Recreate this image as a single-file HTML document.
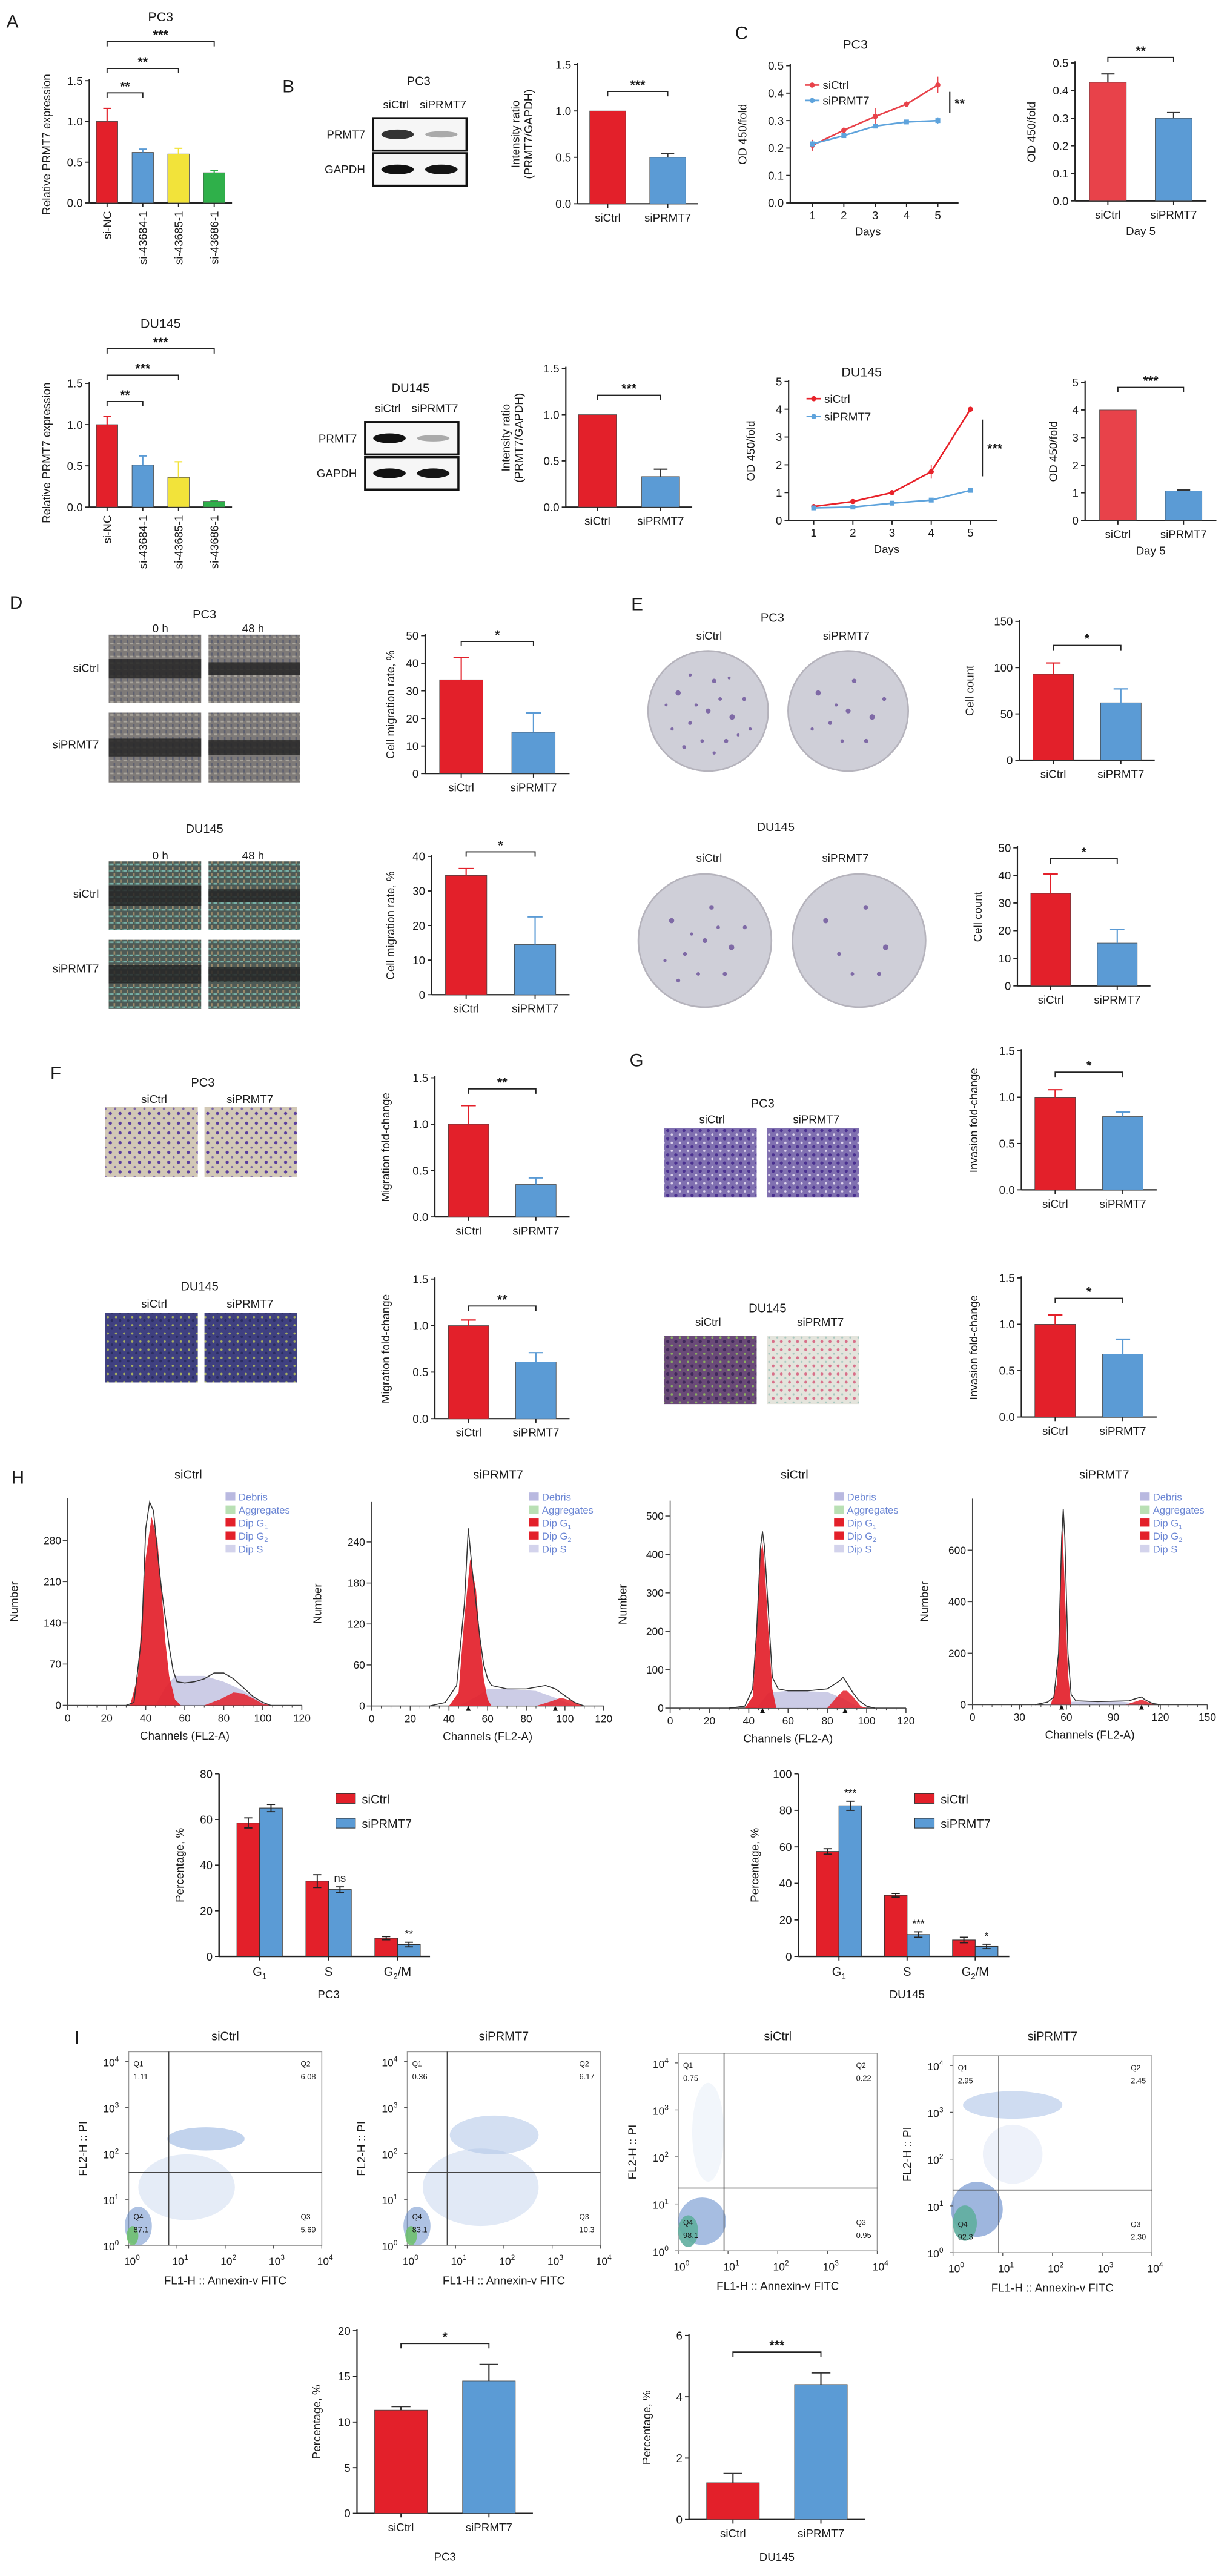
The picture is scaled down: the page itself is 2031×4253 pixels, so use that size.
<!DOCTYPE html>
<html><head><meta charset="utf-8"><title>PRMT7 figure</title>
<style>html,body{margin:0;padding:0;background:#fff}svg{display:block}text{font-family:"Liberation Sans",sans-serif;fill:#1a1a1a}</style>
</head><body>
<svg id="fig" xmlns="http://www.w3.org/2000/svg" viewBox="0 0 758 1587" width="2031" height="4253" preserveAspectRatio="none">
<defs>
<pattern id="scratchG" width="4" height="4" patternUnits="userSpaceOnUse"><rect width="4" height="4" fill="#7e7a78"/><rect x="0" y="0" width="2" height="1" fill="#a8a49c"/><rect x="2" y="2" width="1" height="2" fill="#5d6070"/></pattern>
<pattern id="scratchC" width="4" height="4" patternUnits="userSpaceOnUse"><rect width="4" height="4" fill="#4e5a56"/><rect x="0" y="0" width="2" height="1" fill="#7ab0a8"/><rect x="2" y="2" width="1" height="2" fill="#9a8a6a"/><rect x="3" y="0" width="1" height="1" fill="#5a8a7a"/></pattern>
<pattern id="twA" width="6" height="6" patternUnits="userSpaceOnUse"><rect width="6" height="6" fill="#d2c8b6"/><circle cx="2" cy="2" r="1" fill="#5a3e9e"/><circle cx="5" cy="5" r="0.7" fill="#7a64a8"/></pattern>
<pattern id="twB" width="5" height="5" patternUnits="userSpaceOnUse"><rect width="5" height="5" fill="#3f4080"/><circle cx="1.5" cy="1.5" r="0.7" fill="#a8b060"/><circle cx="4" cy="3.5" r="0.8" fill="#2a2c60"/></pattern>
<pattern id="twC" width="5" height="5" patternUnits="userSpaceOnUse"><rect width="5" height="5" fill="#8070b0"/><circle cx="1.5" cy="1.5" r="1" fill="#4a3090"/><circle cx="4" cy="4" r="0.7" fill="#dcd4ec"/></pattern>
<pattern id="twD" width="5" height="5" patternUnits="userSpaceOnUse"><rect width="5" height="5" fill="#6a4a78"/><circle cx="1.5" cy="1.5" r="1" fill="#40285a"/><circle cx="4" cy="4" r="0.7" fill="#8ab060"/></pattern>
<pattern id="twE" width="5" height="5" patternUnits="userSpaceOnUse"><rect width="5" height="5" fill="#e4e4dc"/><circle cx="1.5" cy="1.5" r="0.9" fill="#d8708a"/><circle cx="4" cy="4" r="0.6" fill="#a8c8c0"/></pattern>
</defs>
</svg>
<script>
// ---------- data ----------
const aCats=['si-NC','si-43684-1','si-43685-1','si-43686-1'];
const aPcVals=[1.0,0.62,0.60,0.37];
const aPcErrs=[0.16,0.04,0.07,0.03];
const aDuVals=[1.0,0.51,0.36,0.07];
const aDuErrs=[0.10,0.11,0.19,0.01];
const t15=[0,0.5,1.0,1.5];
const t15Labels=['0.0','0.5','1.0','1.5'];
const twoCats=['siCtrl','siPRMT7'];
const bPcVals=[1.0,0.5];
const bPcErrs=[0,0.04];
const bDuVals=[1.0,0.33];
const bDuErrs=[0,0.08];
const days=[1,2,3,4,5];
const cPcCtrl=[0.21,0.265,0.315,0.36,0.43];
const cPcCtrlErr=[0.02,0.01,0.03,0.01,0.03];
const cPcSi=[0.215,0.245,0.28,0.295,0.30];
const cPcSiErr=[0.01,0.008,0.008,0.006,0.012];
const c05Ticks=[0,0.1,0.2,0.3,0.4,0.5];
const c05Labels=['0.0','0.1','0.2','0.3','0.4','0.5'];
const cDuCtrl=[0.5,0.68,1.0,1.75,4.0];
const cDuCtrlErr=[0,0,0,0.25,0];
const cDuSi=[0.45,0.48,0.62,0.73,1.08];
const cDuSiErr=[0,0,0,0,0];
const c5Ticks=[0,1,2,3,4,5];
const c5Labels=['0','1','2','3','4','5'];
const cPcDay5=[0.43,0.30];
const cPcDay5Err=[0.03,0.02];
const cDuDay5=[4.0,1.07];
const cDuDay5Err=[0,0.03];
const dPcVals=[34,15];
const dPcErrs=[8,7];
const dDuVals=[34.5,14.5];
const dDuErrs=[2,8];
const d50Ticks=[0,10,20,30,40,50];
const d50Labels=['0','10','20','30','40','50'];
const d40Ticks=[0,10,20,30,40];
const d40Labels=['0','10','20','30','40'];
const ePcVals=[93,62];
const ePcErrs=[12,15];
const eDuVals=[33.5,15.5];
const eDuErrs=[7,5];
const e150Ticks=[0,50,100,150];
const e150Labels=['0','50','100','150'];
const fPcVals=[1.0,0.35];
const fPcErrs=[0.2,0.07];
const fDuVals=[1.0,0.61];
const fDuErrs=[0.06,0.1];
const gPcVals=[1.0,0.79];
const gPcErrs=[0.08,0.05];
const gDuVals=[1.0,0.68];
const gDuErrs=[0.1,0.16];
const hGroups=['G1','S','G2/M'];
const hPcCtrl=[58.5,33,8];
const hPcCtrlErr=[2.2,2.8,0.7];
const hPcSi=[65,29.3,5.2];
const hPcSiErr=[1.6,1.2,1];
const hPcSig=['','ns','**'];
const hDuCtrl=[57.5,33.5,9];
const hDuCtrlErr=[1.5,1,1.5];
const hDuSi=[82.5,12,5.5];
const hDuSiErr=[2.5,1.5,1.2];
const hDuSig=['***','***','*'];
const h80Ticks=[0,20,40,60,80];
const h100Ticks=[0,20,40,60,80,100];
const iPcVals=[11.3,14.5];
const iPcErrs=[0.4,1.8];
const iDuVals=[1.2,4.4];
const iDuErrs=[0.3,0.38];
const i20Ticks=[0,5,10,15,20];
const i6Ticks=[0,2,4,6];
// histogram data (channel, count)
const h1Ch=[30,34,38,40,42,44,46,48,50,52,54,56,60,65,70,75,80,85,90,95,100,104];
const h1N=[0,5,120,300,345,330,260,200,150,100,60,40,38,40,45,55,55,45,30,15,5,0];
const h1G1Ch=[32,36,40,43,46,48,50,52,55,58];
const h1G1N=[0,50,250,320,280,200,110,50,10,0];
const h1SCh=[45,50,55,60,70,80,90,98,104];
const h1SN=[0,30,50,50,50,40,25,8,0];
const h1G2Ch=[70,78,85,90,95,100,104];
const h1G2N=[0,10,22,20,12,3,0];
const h2Ch=[30,38,44,48,50,52,54,56,58,60,62,70,80,90,95,100,105,110];
const h2N=[0,5,30,150,260,200,150,100,60,40,30,25,25,30,25,15,5,0];
const h2G1Ch=[40,45,48,51,54,56,58,60,62];
const h2G1N=[0,20,130,215,170,100,40,10,0];
const h2SCh=[45,55,60,70,85,95,105];
const h2SN=[0,15,25,25,22,12,0];
const h2G2Ch=[85,92,98,103,110];
const h2G2N=[0,6,12,8,0];
const h3Ch=[30,38,42,44,46,47,48,50,52,55,60,70,80,86,88,90,93,96,100,104];
const h3N=[0,5,50,200,420,460,420,250,80,50,45,45,50,70,80,65,40,20,5,0];
const h3G1Ch=[38,42,44,46,47,48,50,52,54];
const h3G1N=[0,30,180,400,430,380,200,50,0];
const h3SCh=[44,50,60,80,88,95,100];
const h3SN=[0,40,45,42,25,5,0];
const h3G2Ch=[80,85,88,90,93,97,100];
const h3G2N=[0,30,45,45,30,5,0];
const h4Ch=[40,48,52,55,57,58,59,61,63,66,80,100,105,108,110,115,120];
const h4N=[0,10,30,200,650,760,650,200,40,15,12,15,25,30,20,5,0];
const h4G1Ch=[50,54,56,57.5,59,61,63];
const h4G1N=[0,80,400,690,450,120,0];
const h4SCh=[45,55,65,95,105,110];
const h4SN=[0,8,12,12,5,0];
const h4G2Ch=[98,104,108,112,116];
const h4G2N=[0,12,20,10,0];
const flowVals=[['1.11','6.08','87.1','5.69'],['0.36','6.17','83.1','10.3'],['0.75','0.22','98.1','0.95'],['2.95','2.45','92.3','2.30']];

// ---------- helpers ----------
const NS='http://www.w3.org/2000/svg';
const svg=document.getElementById('fig');
const RED='#e3202a',BLUE='#5b9bd5',YEL='#f2e33a',GRN='#2fb04a';
function mk(tag,parent,attrs,text){const e=document.createElementNS(NS,tag);for(const k in attrs)e.setAttribute(k,attrs[k]);if(text!==undefined)e.textContent=text;(parent||svg).appendChild(e);return e;}
function grp(name){const g=mk('g',svg,{});


return g;}
function label(g,x,y,s,size,anchor,name,extra){const a=Object.assign({x:x,y:y,'font-size':size,'text-anchor':anchor||'middle'},extra||{});const t=mk('text',g,a,s);


return t;}
function vlabel(g,x,y,s,size,name){const t=mk('text',g,{transform:`translate(${x},${y}) rotate(-90)`,'font-size':size,'text-anchor':'middle'},s);


return t;}
function line(g,x1,y1,x2,y2,c,w,name){const l=mk('line',g,{x1:x1,y1:y1,x2:x2,y2:y2,stroke:c||'#222','stroke-width':w||0.7});


return l;}

function barChart(g,p){
  const sy=v=>p.y0-(v/p.max)*(p.y0-p.yTop);
  const n=p.cats.length,band=(p.x1-p.x0)/n,bw=band*(p.bw||0.6);
  const cx=i=>p.x0+band*(i+0.5);
  line(g,p.x0,p.y0,p.x0,p.yTop-1,'#222',0.8,'y-axis');
  line(g,p.x0,p.y0,p.x1,p.y0,'#222',0.8,'x-axis');
  p.ticks.forEach((t,i)=>{line(g,p.x0-2.5,sy(t),p.x0,sy(t),'#222',0.7,'y-tick');
    label(g,p.x0-4,sy(t)+2.5,p.tickLabels[i],7,'end','y-tick-label');});
  p.vals.forEach((v,i)=>{
    const r=mk('rect',g,{x:cx(i)-bw/2,y:sy(v),width:bw,height:p.y0-sy(v),fill:p.colors[i],stroke:'#444','stroke-width':0.3});
    
    
    const e=p.errs[i];
    if(e>0){const ec=p.errColor||p.colors[i];
      line(g,cx(i),sy(v),cx(i),sy(v+e),ec,0.8,'error-bar');
      line(g,cx(i)-bw*0.18,sy(v+e),cx(i)+bw*0.18,sy(v+e),ec,0.8,'error-cap');}
    line(g,cx(i),p.y0,cx(i),p.y0+2.5,'#222',0.7,'x-tick');
    if(p.rot){const t=mk('text',g,{transform:`translate(${cx(i)+2.5},${p.y0+5}) rotate(-90)`,'font-size':7,'text-anchor':'end'},p.cats[i]);
      
      }
    else label(g,cx(i),p.y0+11,p.cats[i],7,'middle','x-tick-label');
  });
  (p.sigs||[]).forEach(s=>{const ys=sy(s[3]);
    const b=mk('path',g,{d:`M${cx(s[0])},${ys+3}V${ys}H${cx(s[1])}V${ys+3}`,fill:'none',stroke:'#222','stroke-width':0.7});
    
    
    label(g,(cx(s[0])+cx(s[1]))/2,ys-1.5,s[2],8,'middle','significance-stars',{'font-weight':'bold'});});
  const mid=p.ylabY||(p.y0+p.yTop)/2;
  if(p.ylab2){vlabel(g,p.ylabX-4,mid,p.ylab,7,'y-axis-title');vlabel(g,p.ylabX+4,mid,p.ylab2,7,'y-axis-title-2');}
  else vlabel(g,p.ylabX,mid,p.ylab,7,'y-axis-title');
  if(p.title)label(g,(p.x0+p.x1)/2,p.titleY,p.title,8,'middle','chart-title');
  if(p.sub)label(g,(p.x0+p.x1)/2,p.y0+(p.subDy||21),p.sub,7,'middle','x-axis-subtitle');
}

function lineChart(g,p){
  const sy=v=>p.y0-(v/p.max)*(p.y0-p.yTop);
  const sx=d=>p.x0+(d-p.dmin)*(p.x1-p.x0)/(p.dmax-p.dmin);
  line(g,p.x0,p.y0,p.x0,p.yTop-1,'#222',0.8,'y-axis');
  line(g,p.x0,p.y0,p.x1,p.y0,'#222',0.8,'x-axis');
  p.ticks.forEach((t,i)=>{line(g,p.x0-2.5,sy(t),p.x0,sy(t),'#222',0.7,'y-tick');label(g,p.x0-4,sy(t)+2.5,p.tickLabels[i],7,'end','y-tick-label');});
  days.forEach(d=>{line(g,sx(d),p.y0,sx(d),p.y0+2.5,'#222',0.7,'x-tick');label(g,sx(d),p.y0+10,String(d),7,'middle','x-tick-label');});
  p.series.forEach((s,k)=>{
    const pl=mk('polyline',g,{points:s.vals.map((v,i)=>sx(days[i])+','+sy(v)).join(' '),fill:'none',stroke:s.color,'stroke-width':1});
    
    
    s.vals.forEach((v,i)=>{
      if(s.errs&&s.errs[i])line(g,sx(days[i]),sy(v-s.errs[i]),sx(days[i]),sy(v+s.errs[i]),s.color,0.6,'error-bar');
      const c=k===0?mk('circle',g,{cx:sx(days[i]),cy:sy(v),r:1.6,fill:s.color}):mk('rect',g,{x:sx(days[i])-1.5,y:sy(v)-1.5,width:3,height:3,fill:s.color});
      
      });
    const ly=p.legY+k*(p.legGap||10);
    line(g,p.legX,ly,p.legX+9,ly,s.color,1,'legend-line');
    const lc=mk('circle',g,{cx:p.legX+4.5,cy:ly,r:1.6,fill:s.color});
    
    
    label(g,p.legX+11,ly+2.5,s.name,7,'start','legend-label');
  });
  line(g,p.sigX,p.sigY1,p.sigX,p.sigY2,'#222',0.8,'significance-line');
  label(g,p.sigX+3,(p.sigY1+p.sigY2)/2+3,p.sig,8,'start','significance-stars',{'font-weight':'bold'});
  label(g,(p.x0+p.x1)/2-4,p.y0+20,'Days',7,'middle','x-axis-title');
  vlabel(g,p.ylabX,(p.y0+p.yTop)/2,'OD 450/fold',7,'y-axis-title');
  label(g,p.titleX,p.titleY,p.title,8,'middle','chart-title');
}

function groupChart(g,p){
  const sy=v=>p.y0-(v/p.max)*(p.y0-p.yTop);
  const bw=14;
  line(g,p.x0,p.y0,p.x0,p.yTop,'#222',0.9,'y-axis');
  line(g,p.x0,p.y0,p.x1,p.y0,'#222',0.9,'x-axis');
  p.ticks.forEach(t=>{line(g,p.x0-2.5,sy(t),p.x0,sy(t),'#222',0.7,'y-tick');label(g,p.x0-4,sy(t)+2.5,String(t),7,'end','y-tick-label');});
  hGroups.forEach((gn,i)=>{const c=p.x0+p.off+i*p.gap;
    [[p.a,p.ae,RED,-1],[p.b,p.be,BLUE,0]].forEach(s=>{const x=c+s[3]*bw,v=s[0][i],e=s[1][i];
      const r=mk('rect',g,{x:x,y:sy(v),width:bw,height:p.y0-sy(v),fill:s[2],stroke:'#333','stroke-width':0.4});
      
      
      line(g,x+bw/2,sy(v-e),x+bw/2,sy(v+e),'#222',0.7,'error-bar');
      line(g,x+bw/2-2.5,sy(v+e),x+bw/2+2.5,sy(v+e),'#222',0.7,'error-cap');
      line(g,x+bw/2-2.5,sy(v-e),x+bw/2+2.5,sy(v-e),'#222',0.7,'error-cap');});
    if(p.sig[i])label(g,c+bw/2,sy(p.b[i]+p.be[i])-3,p.sig[i],p.sig[i]==='ns'?7:6.5,'middle','significance-label');
    line(g,c,p.y0,c,p.y0+2.5,'#222',0.7,'x-tick');
    const t=label(g,c,p.y0+12,gn.charAt(0),7.5,'middle','x-tick-label');
    if(gn!=='S'){mk('tspan',t,{dy:2,'font-size':5},gn==='G1'?'1':'2');
      if(gn==='G2/M')mk('tspan',t,{dy:-2,'font-size':7.5},'/M');}
  });
  [['siCtrl',RED],['siPRMT7',BLUE]].forEach((s,k)=>{const r=mk('rect',g,{x:p.legX,y:p.legY+k*15.2-3,width:12,height:6,fill:s[1],stroke:'#333','stroke-width':0.4});
    
    
    label(g,p.legX+16,p.legY+k*15.2+3,s[0],7.5,'start','legend-label');});
  vlabel(g,p.ylabX,(p.y0+p.yTop)/2,'Percentage, %',7,'y-axis-title');
  label(g,p.x0+p.off+p.gap,1231,p.title,7,'middle','chart-subtitle');
}

function areaPath(sx,sy,ch,n){return 'M'+sx(ch[0])+','+sy(0)+ch.map((c,i)=>'L'+sx(c)+','+sy(n[i])).join('')+'L'+sx(ch[ch.length-1])+','+sy(0)+'Z';}
function hist(g,p){
  const sx=c=>p.x0+c/p.xmax*(p.x1-p.x0);
  const sy=n=>p.y0-n/p.ytop*(p.y0-p.yTopPx);
  line(g,p.x0,p.y0,p.x0,p.yAxisTop,'#444',0.6,'y-axis');
  line(g,p.x0,p.y0,p.x1,p.y0,'#444',0.6,'x-axis');
  for(let c=0;c<=p.xmax;c+=p.xmax/24)line(g,sx(c),p.y0,sx(c),p.y0+1.5,'#444',0.4,'x-minor-tick');
  p.xticks.forEach(t=>{line(g,sx(t),p.y0,sx(t),p.y0+3,'#444',0.6,'x-tick');label(g,sx(t),p.y0+10,String(t),6.5,'middle','x-tick-label');});
  p.yticks.forEach(t=>{line(g,p.x0-3,sy(t),p.x0,sy(t),'#444',0.6,'y-tick');label(g,p.x0-4,sy(t)+2.3,String(t),6.5,'end','y-tick-label');});
  const s=mk('path',g,{d:areaPath(sx,sy,p.sCh,p.sN),fill:'#c6c7e3',opacity:0.9});
  
  
  const g1=mk('path',g,{d:areaPath(sx,sy,p.g1Ch,p.g1N),fill:RED,opacity:0.92});
  
  
  const g2=mk('path',g,{d:areaPath(sx,sy,p.g2Ch,p.g2N),fill:RED,opacity:0.85});
  
  
  const o=mk('polyline',g,{points:p.ch.map((c,i)=>sx(c)+','+sy(p.n[i])).join(' '),fill:'none',stroke:'#333','stroke-width':0.6});
  
  
  (p.markers||[]).forEach(m=>{const tr=mk('path',g,{d:`M${sx(m)-1.5},${p.y0+3}L${sx(m)},${p.y0}L${sx(m)+1.5},${p.y0+3}Z`,fill:'#111'});
    
    });
  label(g,p.titleX,911,p.title,7.5,'middle','chart-title');
  label(g,(p.x0+p.x1)/2,p.y0+21,'Channels (FL2-A)',7,'middle','x-axis-title');
  vlabel(g,p.ylabX,(p.y0+p.yAxisTop)/2,'Number',7,'y-axis-title');
  const leg=[['Debris','#b9b9e0'],['Aggregates','#b9e0b4'],['Dip G','#e3202a','1'],['Dip G','#e3202a','2'],['Dip S','#d3d3ec']];
  leg.forEach((l,k)=>{const y=924.5+k*8;const r=mk('rect',g,{x:p.legX,y:y-5,width:6,height:5,fill:l[1]});
    
    
    const t=label(g,p.legX+8,y,l[0],6.2,'start','legend-label',{style:'fill:#6b86d4'});
    if(l[2]){mk('tspan',t,{dy:1.5,'font-size':4,style:'fill:#6b86d4'},l[2]);}});
}

function flow(g,p,vals){
  const w=p.x1-p.x0,h=p.y1-p.y0;
  const box=mk('rect',g,{x:p.x0,y:p.y0,width:w,height:h,fill:'#fff',stroke:'#999','stroke-width':0.6});
  
  
  p.clouds.forEach(c=>{const e=mk('ellipse',g,{cx:p.x0+c[0]*w,cy:p.y0+c[1]*h,rx:c[2]*w,ry:c[3]*h,fill:c[4],opacity:c[5]});
    
    });
  line(g,p.qx,p.y0,p.qx,p.y1,'#444',0.6,'quadrant-vertical');
  line(g,p.x0,p.qy,p.x1,p.qy,'#444',0.6,'quadrant-horizontal');
  for(let d=0;d<=4;d++){const x=p.x0+d*w/4,y=p.y1-d*(h-6)/4;
    line(g,x,p.y1,x,p.y1+2,'#555',0.5,'x-tick');line(g,p.x0-2,y,p.x0,y,'#555',0.5,'y-tick');
    const tx=label(g,x+2,p.y1+12,'10',6.5,'middle','x-tick-label');mk('tspan',tx,{dy:-3,'font-size':4.5},String(d));
    const ty=label(g,p.x0-6,y+3,'10',6.5,'end','y-tick-label');mk('tspan',ty,{dy:-3,'font-size':4.5},String(d));}
  const q=[['Q1',p.x0+3,p.y0+9],['Q2',p.x1-13,p.y0+9],['Q4',p.x0+3,p.y1-16],['Q3',p.x1-13,p.y1-16]];
  q.forEach((qq,i)=>{label(g,qq[1],qq[2],qq[0],4.5,'start','quadrant-name');label(g,qq[1],qq[2]+8,vals[i],4.8,'start','quadrant-percent');});
  label(g,(p.x0+p.x1)/2,p.y1+24,'FL1-H :: Annexin-v FITC',7,'middle','x-axis-title');
  vlabel(g,p.x0-26,(p.y0+p.y1)/2,'FL2-H :: PI',7,'y-axis-title');
  label(g,(p.x0+p.x1)/2,1257,p.title,7.5,'middle','chart-title');
}

// ---------- panel letters ----------
const letters=[['A',4,17],['B',174,57],['C',453,24],['D',6,375],['E',389,376],['F',31,665],['G',388,657],['H',7,914],['I',46,1259]];
const gl=grp('panel-letters');
letters.forEach(l=>label(gl,l[1],l[2],l[0],11,'start','panel-letter-'+l[0].toLowerCase()));

// ---------- A ----------
barChart(grp('panel-a-pc3-chart'),{x0:55,x1:143,y0:125,yTop:49.7,max:1.5,ticks:t15,tickLabels:t15Labels,cats:aCats,vals:aPcVals,errs:aPcErrs,colors:[RED,BLUE,YEL,GRN],rot:true,ylab:'Relative PRMT7 expression',ylabX:31,ylabY:89,title:'PC3',titleY:13,sigs:[[0,1,'**',1.35],[0,2,'**',1.65],[0,3,'***',1.98]]});
barChart(grp('panel-a-du145-chart'),{x0:55,x1:143,y0:312.4,yTop:236.2,max:1.5,ticks:t15,tickLabels:t15Labels,cats:aCats,vals:aDuVals,errs:aDuErrs,colors:[RED,BLUE,YEL,GRN],rot:true,ylab:'Relative PRMT7 expression',ylabX:31,ylabY:279,title:'DU145',titleY:202,sigs:[[0,1,'**',1.28],[0,2,'***',1.6],[0,3,'***',1.92]]});

// ---------- B ----------
function blot(g,x0,y0,title,strong,ty){
  label(g,x0+28,y0-ty,title,7.5,'middle','blot-title');
  label(g,x0+14,y0-6,'siCtrl',7,'middle','lane-label');label(g,x0+43,y0-6,'siPRMT7',7,'middle','lane-label');
  label(g,x0-5,y0+12.5,'PRMT7',7,'end','protein-label');label(g,x0-5,y0+34,'GAPDH',7,'end','protein-label');
  [0,21.6].forEach((dy,k)=>{const r=mk('rect',g,{x:x0,y:y0+dy,width:57.5,height:20,fill:'#f6f6f6',stroke:'#111','stroke-width':1.3});
    
    });
  [[x0+15,y0+10,strong,3],[x0+42,y0+10,'#aaa',2],[x0+15,y0+31.6,'#111',3],[x0+42,y0+31.6,'#151515',3]].forEach(b=>{const e=mk('ellipse',g,{cx:b[0],cy:b[1],rx:10,ry:b[3],fill:b[2]});
    
    });
}
blot(grp('panel-b-pc3-blot'),230,72.8,'PC3','#333',20.3);
blot(grp('panel-b-du145-blot'),225,260,'DU145','#111',18.3);
barChart(grp('panel-b-pc3-chart'),{x0:356,x1:430,y0:125.5,yTop:39.8,max:1.5,ticks:t15,tickLabels:t15Labels,cats:twoCats,vals:bPcVals,errs:bPcErrs,colors:[RED,BLUE],errColor:'#333',ylab:'Intensity ratio',ylab2:'(PRMT7/GAPDH)',ylabX:324,sigs:[[0,1,'***',1.21]]});
barChart(grp('panel-b-du145-chart'),{x0:348.7,x1:426.6,y0:312.4,yTop:227,max:1.5,ticks:t15,tickLabels:t15Labels,cats:twoCats,vals:bDuVals,errs:bDuErrs,colors:[RED,BLUE],errColor:'#333',ylab:'Intensity ratio',ylab2:'(PRMT7/GAPDH)',ylabX:318,sigs:[[0,1,'***',1.21]]});

// ---------- C ----------
lineChart(grp('panel-c-pc3-growth'),{x0:487,x1:590.7,y0:125,yTop:40.5,max:0.5,ticks:c05Ticks,tickLabels:c05Labels,dmin:0.29,dmax:5.66,series:[{vals:cPcCtrl,errs:cPcCtrlErr,color:'#e8424a',name:'siCtrl'},{vals:cPcSi,errs:cPcSiErr,color:'#5ea3dc',name:'siPRMT7'}],legX:496,legY:52.4,legGap:9.5,sigX:585.3,sigY1:56.6,sigY2:69.7,sig:'**',ylabX:460,title:'PC3',titleX:527,titleY:30});
lineChart(grp('panel-c-du145-growth'),{x0:486,x1:614.7,y0:320.6,yTop:235,max:5,ticks:c5Ticks,tickLabels:c5Labels,dmin:0.36,dmax:5.69,series:[{vals:cDuCtrl,errs:cDuCtrlErr,color:'#e8222a',name:'siCtrl'},{vals:cDuSi,errs:cDuSiErr,color:'#5ea3dc',name:'siPRMT7'}],legX:497,legY:245.6,legGap:11,sigX:605.4,sigY1:258.5,sigY2:293.5,sig:'***',ylabX:465,title:'DU145',titleX:531,titleY:232});
barChart(grp('panel-c-pc3-day5'),{x0:662.5,x1:743.5,y0:123.8,yTop:38.8,max:0.5,ticks:c05Ticks,tickLabels:c05Labels,cats:twoCats,vals:cPcDay5,errs:cPcDay5Err,colors:['#e8424a','#5b9bd5'],errColor:'#333',bw:0.56,ylab:'OD 450/fold',ylabX:638,sub:'Day 5',subDy:21,sigs:[[0,1,'**',0.52]]});
barChart(grp('panel-c-du145-day5'),{x0:668.7,x1:749.6,y0:320.6,yTop:235.6,max:5,ticks:c5Ticks,tickLabels:c5Labels,cats:twoCats,vals:cDuDay5,errs:cDuDay5Err,colors:['#e8424a','#5b9bd5'],errColor:'#333',bw:0.56,ylab:'OD 450/fold',ylabX:651.5,sub:'Day 5',subDy:21,sigs:[[0,1,'***',4.82]]});

// ---------- D images ----------
function scratch(g,x,y,w,h,fill,band,name){const r=mk('rect',g,{x:x,y:y,width:w,height:h,fill:fill});
  
  
  const b=mk('rect',g,{x:x,y:y+h/2-band/2,width:w,height:band,fill:'#262626',opacity:0.85});
  
  }
const gd=grp('panel-d-images');
label(gd,126,381,'PC3',7.5,'middle','image-title');label(gd,98.8,389.5,'0 h',7,'middle','time-label');label(gd,156,389.5,'48 h',7,'middle','time-label');
label(gd,61,414,'siCtrl',7,'end','row-label');label(gd,61,461,'siPRMT7',7,'end','row-label');
scratch(gd,67,391,57,42,'url(#scratchG)',12,'pc3-sictrl-0h');scratch(gd,128.5,391,56.5,42,'url(#scratchG)',8,'pc3-sictrl-48h');
scratch(gd,67,439,57,43,'url(#scratchG)',11,'pc3-siprmt7-0h');scratch(gd,128.5,439,56.5,43,'url(#scratchG)',9,'pc3-siprmt7-48h');
label(gd,126,513,'DU145',7.5,'middle','image-title');label(gd,98.8,529.5,'0 h',7,'middle','time-label');label(gd,156,529.5,'48 h',7,'middle','time-label');
label(gd,61,553,'siCtrl',7,'end','row-label');label(gd,61,599,'siPRMT7',7,'end','row-label');
scratch(gd,67,530.7,57,42.3,'url(#scratchC)',12,'du145-sictrl-0h');scratch(gd,128.5,530.7,56.5,42.3,'url(#scratchC)',8,'du145-sictrl-48h');
scratch(gd,67,579,57,42.6,'url(#scratchC)',11,'du145-siprmt7-0h');scratch(gd,128.5,579,56.5,42.6,'url(#scratchC)',9,'du145-siprmt7-48h');
barChart(grp('panel-d-pc3-chart'),{x0:262,x1:351,y0:476.6,yTop:391.6,max:50,ticks:d50Ticks,tickLabels:d50Labels,cats:twoCats,vals:dPcVals,errs:dPcErrs,colors:[RED,BLUE],ylab:'Cell migration rate, %',ylabX:243,sigs:[[0,1,'*',47.9]]});
barChart(grp('panel-d-du145-chart'),{x0:266,x1:351,y0:612.8,yTop:527.6,max:40,ticks:d40Ticks,tickLabels:d40Labels,cats:twoCats,vals:dDuVals,errs:dDuErrs,colors:[RED,BLUE],ylab:'Cell migration rate, %',ylabX:243,sigs:[[0,1,'*',41.3]]});

// ---------- E plates ----------
function plate(g,cx,cy,r,dots,name){const c=mk('circle',g,{cx:cx,cy:cy,r:r,fill:'#cfcfd8',stroke:'#b5b3bc','stroke-width':1});
  
  
  dots.forEach(d=>{const e=mk('circle',g,{cx:cx+d[0]*r,cy:cy+d[1]*r,r:d[2],fill:'#6a509a',opacity:0.8});
    
    });}
const dotsA=[[-0.5,-0.3,1.6],[-0.3,0.2,1.2],[0.1,-0.5,1.4],[0.4,0.1,1.7],[-0.1,0.5,1.1],[0.3,0.5,1.3],[-0.6,0.3,1],[0.6,-0.2,1.2],[0,0,1.5],[-0.2,-0.1,1],[0.2,-0.2,1.1],[-0.4,0.6,1.2],[0.5,0.4,0.9],[0.1,0.7,1],[-0.7,-0.1,0.9],[0.7,0.3,1],[-0.3,-0.6,1],[0.35,-0.55,0.9]];
const dotsB=dotsA.slice(0,10);
const ge=grp('panel-e-plates');
label(ge,476,383,'PC3',7.5,'middle','image-title');label(ge,437,394,'siCtrl',7,'middle','plate-label');label(ge,521.5,394,'siPRMT7',7,'middle','plate-label');
plate(ge,436.4,438,37,dotsA,'pc3-sictrl-plate');plate(ge,522.7,438,37,dotsB,'pc3-siprmt7-plate');
label(ge,478,512,'DU145',7.5,'middle','image-title');label(ge,437,531,'siCtrl',7,'middle','plate-label');label(ge,521,531,'siPRMT7',7,'middle','plate-label');
plate(ge,434.4,579.5,41,dotsA.slice(0,12),'du145-sictrl-plate');plate(ge,529.4,579.5,41,dotsB.slice(0,6),'du145-siprmt7-plate');
barChart(grp('panel-e-pc3-chart'),{x0:628.2,x1:711.6,y0:468.3,yTop:382.8,max:150,ticks:e150Ticks,tickLabels:e150Labels,cats:twoCats,vals:ePcVals,errs:ePcErrs,colors:[RED,BLUE],ylab:'Cell count',ylabX:600,sigs:[[0,1,'*',124]]});
barChart(grp('panel-e-du145-chart'),{x0:627,x1:709,y0:607.4,yTop:522.3,max:50,ticks:d50Ticks,tickLabels:d50Labels,cats:twoCats,vals:eDuVals,errs:eDuErrs,colors:[RED,BLUE],ylab:'Cell count',ylabX:605,sigs:[[0,1,'*',46]]});

// ---------- F / G images ----------
function tw(g,x,y,w,h,fill,name){const r=mk('rect',g,{x:x,y:y,width:w,height:h,fill:fill});
  
  }
const gf=grp('panel-f-images');
label(gf,125,669.5,'PC3',7.5,'middle','image-title');label(gf,95,679.5,'siCtrl',7,'middle','image-label');label(gf,154,679.5,'siPRMT7',7,'middle','image-label');
tw(gf,64.7,682,57.2,43,'url(#twA)','pc3-sictrl-migration');tw(gf,126,682,57,43,'url(#twA)','pc3-siprmt7-migration');
label(gf,123,795,'DU145',7.5,'middle','image-title');label(gf,95,805.6,'siCtrl',7,'middle','image-label');label(gf,154,805.6,'siPRMT7',7,'middle','image-label');
tw(gf,64.7,808.7,57.2,43,'url(#twB)','du145-sictrl-migration');tw(gf,126,808.7,57,43,'url(#twB)','du145-siprmt7-migration');
barChart(grp('panel-f-pc3-chart'),{x0:268,x1:351,y0:749.7,yTop:664,max:1.5,ticks:t15,tickLabels:t15Labels,cats:twoCats,vals:fPcVals,errs:fPcErrs,colors:[RED,BLUE],ylab:'Migration fold-change',ylabX:240,sigs:[[0,1,'**',1.38]]});
barChart(grp('panel-f-du145-chart'),{x0:268,x1:351,y0:874,yTop:788,max:1.5,ticks:t15,tickLabels:t15Labels,cats:twoCats,vals:fDuVals,errs:fDuErrs,colors:[RED,BLUE],ylab:'Migration fold-change',ylabX:240,sigs:[[0,1,'**',1.21]]});
const gg=grp('panel-g-images');
label(gg,470,682.3,'PC3',7.5,'middle','image-title');label(gg,438.8,692,'siCtrl',7,'middle','image-label');label(gg,503,692,'siPRMT7',7,'middle','image-label');
tw(gg,409.4,695,56.9,42.8,'url(#twC)','pc3-sictrl-invasion');tw(gg,472.5,695,56.9,42.8,'url(#twC)','pc3-siprmt7-invasion');
label(gg,473,808.5,'DU145',7.5,'middle','image-title');label(gg,436.4,816.8,'siCtrl',7,'middle','image-label');label(gg,505.6,816.8,'siPRMT7',7,'middle','image-label');
tw(gg,409.4,822.8,56.9,42.2,'url(#twD)','du145-sictrl-invasion');tw(gg,472.5,822.8,56.9,42.2,'url(#twE)','du145-siprmt7-invasion');
barChart(grp('panel-g-pc3-chart'),{x0:629.4,x1:712.8,y0:733,yTop:647.4,max:1.5,ticks:t15,tickLabels:t15Labels,cats:twoCats,vals:gPcVals,errs:gPcErrs,colors:[RED,BLUE],ylab:'Invasion fold-change',ylabX:602.4,sigs:[[0,1,'*',1.27]]});
barChart(grp('panel-g-du145-chart'),{x0:629.4,x1:712.8,y0:873,yTop:787.3,max:1.5,ticks:t15,tickLabels:t15Labels,cats:twoCats,vals:gDuVals,errs:gDuErrs,colors:[RED,BLUE],ylab:'Invasion fold-change',ylabX:602.4,sigs:[[0,1,'*',1.28]]});

// ---------- H ----------
hist(grp('panel-h-pc3-sictrl-histogram'),{x0:41.7,x1:186,xmax:120,y0:1050.6,yTopPx:949,ytop:280,yAxisTop:923,xticks:[0,20,40,60,80,100,120],yticks:[0,70,140,210,280],ch:h1Ch,n:h1N,g1Ch:h1G1Ch,g1N:h1G1N,sCh:h1SCh,sN:h1SN,g2Ch:h1G2Ch,g2N:h1G2N,title:'siCtrl',titleX:116,legX:139,ylabX:11});
hist(grp('panel-h-pc3-siprmt7-histogram'),{x0:229,x1:372,xmax:120,y0:1051,yTopPx:950,ytop:240,yAxisTop:925,xticks:[0,20,40,60,80,100,120],yticks:[0,60,120,180,240],ch:h2Ch,n:h2N,g1Ch:h2G1Ch,g1N:h2G1N,sCh:h2SCh,sN:h2SN,g2Ch:h2G2Ch,g2N:h2G2N,markers:[50,95],title:'siPRMT7',titleX:307,legX:326,ylabX:198});
hist(grp('panel-h-du145-sictrl-histogram'),{x0:413,x1:558.3,xmax:120,y0:1052.3,yTopPx:934,ytop:500,yAxisTop:924.5,xticks:[0,20,40,60,80,100,120],yticks:[0,100,200,300,400,500],ch:h3Ch,n:h3N,g1Ch:h3G1Ch,g1N:h3G1N,sCh:h3SCh,sN:h3SN,g2Ch:h3G2Ch,g2N:h3G2N,markers:[47,89],title:'siCtrl',titleX:489.6,legX:514,ylabX:386});
hist(grp('panel-h-du145-siprmt7-histogram'),{x0:599.3,x1:744,xmax:150,y0:1050.2,yTopPx:955,ytop:600,yAxisTop:923.3,xticks:[0,30,60,90,120,150],yticks:[0,200,400,600],ch:h4Ch,n:h4N,g1Ch:h4G1Ch,g1N:h4G1N,sCh:h4SCh,sN:h4SN,g2Ch:h4G2Ch,g2N:h4G2N,markers:[57,108],title:'siPRMT7',titleX:680.5,legX:702.5,ylabX:572});
groupChart(grp('panel-h-pc3-cell-cycle-chart'),{x0:135,x1:265,y0:1205.3,yTop:1092.8,max:80,ticks:h80Ticks,off:25,gap:42.5,a:hPcCtrl,ae:hPcCtrlErr,b:hPcSi,be:hPcSiErr,sig:hPcSig,legX:207,legY:1108,ylabX:113,title:'PC3'});
groupChart(grp('panel-h-du145-cell-cycle-chart'),{x0:492,x1:622,y0:1205.3,yTop:1092.8,max:100,ticks:h100Ticks,off:25,gap:42,a:hDuCtrl,ae:hDuCtrlErr,b:hDuSi,be:hDuSiErr,sig:hDuSig,legX:563.7,legY:1108,ylabX:467.5,title:'DU145'});

// ---------- I ----------
const LB='#a8c0e6',DB='#5d86c8',GR='#6fc06f';
flow(grp('panel-i-pc3-sictrl-flow'),{x0:79.3,x1:198.3,y0:1264,y1:1383.3,qx:104,qy:1338.4,title:'siCtrl',clouds:[[0.4,0.45,0.2,0.06,LB,0.7],[0.3,0.7,0.25,0.17,LB,0.3],[0.05,0.9,0.07,0.1,DB,0.5],[0.02,0.95,0.03,0.05,GR,0.9]]},flowVals[0]);
flow(grp('panel-i-pc3-siprmt7-flow'),{x0:251,x1:370,y0:1264,y1:1383.3,qx:275.6,qy:1338.4,title:'siPRMT7',clouds:[[0.45,0.43,0.23,0.1,LB,0.5],[0.38,0.7,0.3,0.2,LB,0.35],[0.05,0.9,0.07,0.1,DB,0.5],[0.02,0.95,0.03,0.05,GR,0.9]]},flowVals[1]);
flow(grp('panel-i-du145-sictrl-flow'),{x0:418,x1:540.6,y0:1264.9,y1:1386.7,qx:446.2,qy:1348,title:'siCtrl',clouds:[[0.12,0.85,0.12,0.12,DB,0.55],[0.05,0.9,0.05,0.08,'#5fae9e',0.9],[0.15,0.4,0.08,0.25,LB,0.15]]},flowVals[2]);
flow(grp('panel-i-du145-siprmt7-flow'),{x0:587.3,x1:709.9,y0:1266.5,y1:1387.8,qx:615.5,qy:1349.2,title:'siPRMT7',clouds:[[0.3,0.25,0.25,0.07,LB,0.55],[0.12,0.78,0.13,0.14,DB,0.6],[0.06,0.85,0.06,0.09,'#5fae9e',0.9],[0.3,0.5,0.15,0.15,LB,0.2]]},flowVals[3]);
barChart(grp('panel-i-pc3-apoptosis-chart'),{x0:220,x1:328.4,y0:1548.4,yTop:1435.9,max:20,ticks:i20Ticks,tickLabels:i20Ticks.map(String),cats:twoCats,vals:iPcVals,errs:iPcErrs,colors:[RED,BLUE],errColor:'#333',bw:0.6,ylab:'Percentage, %',ylabX:197.5,sub:'PC3',subDy:29,sigs:[[0,1,'*',18.6]]});
barChart(grp('panel-i-du145-apoptosis-chart'),{x0:424.6,x1:533,y0:1552.2,yTop:1438.8,max:6,ticks:i6Ticks,tickLabels:i6Ticks.map(String),cats:twoCats,vals:iDuVals,errs:iDuErrs,colors:[RED,BLUE],errColor:'#333',bw:0.6,ylab:'Percentage, %',ylabX:400.8,sub:'DU145',subDy:25.5,sigs:[[0,1,'***',5.46]]});
</script>
</body></html>
